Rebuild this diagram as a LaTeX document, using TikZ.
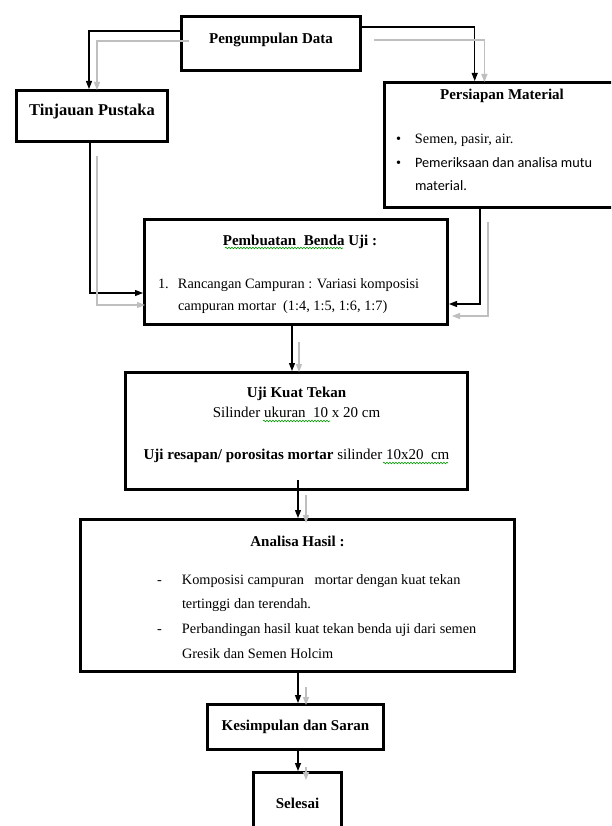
\documentclass[tikz,border=0pt]{standalone}
\usepackage{fontspec}
\setmainfont{Liberation Serif}
\newfontfamily\calibrifont{Carlito}
\usetikzlibrary{positioning}
\usetikzlibrary{calc}
\usetikzlibrary{arrows.meta}
\usetikzlibrary{decorations.pathmorphing}

\newcommand\headsize{\fontsize{15}{18}\selectfont\bfseries}

\begin{document}
\begin{tikzpicture}[x=1pt,y=-1pt,
    box/.style={draw, line width=3pt, fill=white, inner sep=0pt},
    link/.style={-{Triangle[length=8pt,width=6pt]}, line width=1.3pt},
    ghost/.style={link, color=black!25},
    spell/.style={draw=green!60!black, line width=0.6pt, decorate, decoration={snake, segment length=3pt, amplitude=0.8pt}}]
    \useasboundingbox (0,0) rectangle (611,826);
    \clip (0,0) rectangle (611,826);
    \fill[white] (0,0) rectangle (611,826);

    % kotak-kotak
    \node[box, minimum width=179pt, minimum height=54pt, text depth=10.1pt] (pd) at (271,43.5) {\headsize Pengumpulan Data};
    \node[box, minimum width=151.5pt, minimum height=51pt, text depth=11.6pt] (tp) at (92,116) {\fontsize{16.5}{19}\selectfont\bfseries Tinjauan Pustaka};
    \node[box, minimum width=235pt, minimum height=125pt] (pm) at (502,145) {\parbox[c][125pt][t]{232pt}{\centering\vspace*{6.3pt}\headsize Persiapan Material\par
        \vspace{21pt}\raggedright\mdseries\fontsize{14.3}{23.5}\selectfont
        \hspace*{10pt}\makebox[19pt][l]{\textbullet}Semen, pasir, air.\par
        \hspace*{10pt}\makebox[19pt][l]{\textbullet}{\calibrifont Pemeriksaan dan analisa mutu}\par
        \hspace*{29pt}{\calibrifont material.}\par}};
    \node[box, minimum width=303pt, minimum height=105pt] (pb) at (296,272) {\parbox[c][105pt][t]{300pt}{\centering\vspace*{15.3pt}\headsize\hspace*{8pt}Pembuatan \ Benda Uji :\par
        \vspace{22pt}\raggedright\mdseries\fontsize{14.3}{21.5}\selectfont
        \hspace*{12pt}\makebox[20pt][l]{1.}Rancangan Campuran : Variasi komposisi\par
        \hspace*{32pt}campuran mortar \ (1:4, 1:5, 1:6, 1:7)\par}};
    \node[box, minimum width=342pt, minimum height=117pt] (uk) at (296.5,431) {\parbox[c][117pt][t]{338pt}{\centering\vspace*{14.3pt}\headsize Uji Kuat Tekan\par
        \mdseries\fontsize{15}{20.5}\selectfont Silinder ukuran \ 10 x 20 cm\par
        \vspace{21.5pt}\textbf{Uji resapan/ porositas mortar} silinder 10x20 \ cm\par}};
    \node[box, minimum width=434pt, minimum height=152pt] (ah) at (297.5,595.5) {\parbox[c][152pt][t]{431pt}{\centering\vspace*{16.3pt}\headsize Analisa Hasil :\par
        \vspace{13.3pt}\raggedright\mdseries\fontsize{14.3}{24.7}\selectfont
        \hspace*{75pt}\makebox[25pt][l]{-}Komposisi campuran \ \ mortar dengan kuat tekan\par
        \hspace*{100pt}tertinggi dan terendah.\par
        \hspace*{75pt}\makebox[25pt][l]{-}Perbandingan hasil kuat tekan benda uji dari semen\par
        \hspace*{100pt}Gresik dan Semen Holcim\par}};
    \node[box, minimum width=176pt, minimum height=45pt] (ks) at (295.5,727) {\headsize Kesimpulan dan Saran};
    \node[box, minimum width=88pt, minimum height=61.5pt] (sl) at (297.5,803.25) {\headsize Selesai};

    % garis ejaan
    \draw[spell] ($(pb.north)+(-71,30)$) -- ($(pb.north)+(47,30)$);
    \draw[spell] ($(uk.center)+(-33.5,-10)$) -- ($(uk.center)+(33.5,-10)$);
    \draw[spell] ($(uk.center)+(86.5,32)$) -- ($(uk.center)+(151.5,32)$);

    % panah hitam
    \draw[link] ($(pd.west)+(0,-12.5)$) -| ($(tp.north)+(-3,0)$);
    \draw[link] ($(pd.east)+(0,-16.5)$) -| ($(pm.north)+(-27.3,0)$);
    \draw[link] ($(tp.south)+(-2,0)$) |- ($(pb.west)+(0,21)$);
    \draw[link] ($(pm.south)+(-22,0)$) |- ($(pb.east)+(0,32)$);
    \draw[link] ($(pb.south)+(-4,0)$) -- ($(uk.north)+(-4.5,0)$);
    \draw[link] ($(uk.south)+(1.5,-11)$) -- ($(ah.north)+(0.5,0)$);
    \draw[link] ($(ah.south)+(0.5,0)$) -- ($(ks.north)+(2.5,0)$);
    \draw[link] ($(ks.south)+(2.5,0)$) -- ($(sl.north)+(0.5,0)$);

    % panah abu-abu
    \draw[ghost] ($(pd.west)+(9,-2.5)$) -| ($(tp.north)+(5,1)$);
    \draw[ghost] ($(pd.east)+(12,-3.5)$) -| ($(pm.north)+(-17.6,1)$);
    \draw[ghost] ($(tp.south)+(5,13)$) |- ($(pb.west)+(2,33)$);
    \draw[ghost] ($(pm.south)+(-14,13)$) |- ($(pb.east)+(3,44)$);
    \draw[ghost] ($(pb.south)+(3,16)$) -- ($(uk.north)+(2.5,1)$);
    \draw[ghost] ($(uk.south)+(9.5,4)$) -- ($(ah.north)+(8.5,5)$);
    \draw[ghost] ($(ah.south)+(8.5,14)$) -- ($(ks.north)+(10.5,2)$);
    \draw[ghost] ($(ks.south)+(10.5,16)$) -- ($(sl.north)+(8.5,9)$);
\end{tikzpicture}
\end{document}
